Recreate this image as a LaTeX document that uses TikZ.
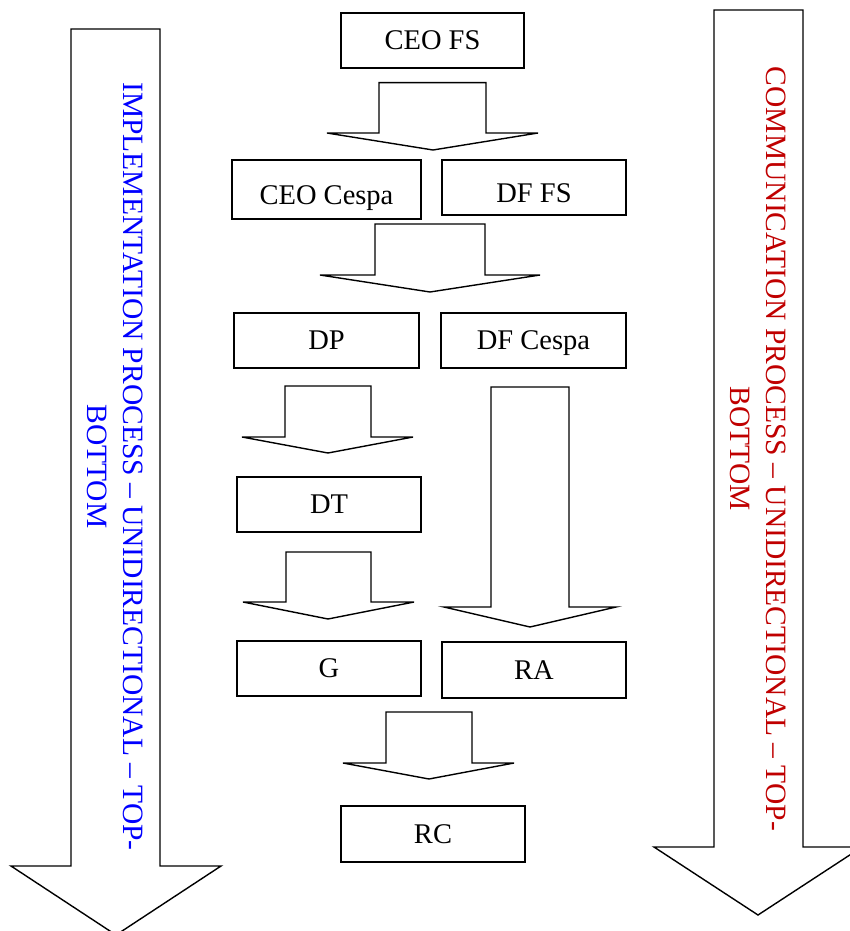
\documentclass[tikz,border=0pt]{standalone}
\usepackage{fontspec}
\setmainfont{Liberation Serif}
\definecolor{implblue}{RGB}{0,0,255}
\definecolor{commred}{RGB}{192,0,0}
\newcommand{\blkarrow}[8]{\draw[blk] (#1,#3) -- (#2,#3) -- (#2,#4) -- (#6,#4) -- (#7,#8) -- (#5,#4) -- (#1,#4) -- cycle;}
\tikzset{
  blk/.style={draw=black, fill=white, line width=1.4pt, line join=miter},
  orgbox/.style={draw=black, fill=white, line width=1.4pt, inner sep=0pt,
    text height=18.9pt, text depth=0pt,
    font=\fontsize{28.5}{34}\selectfont},
  lowtext/.style={text height=30.9pt},
  sidetext/.style={rotate=-90, align=center, inner sep=0pt,
    font=\fontsize{29.5}{35.5}\selectfont}
}
\begin{document}
\begin{tikzpicture}[x=1pt, y=-1pt]
\useasboundingbox (0,0) rectangle (850,931);
% big side arrows
\blkarrow{71}{160}{29}{866}{11}{221}{116}{935}
\blkarrow{714}{803}{10}{847}{654}{862}{758}{915}
\node[sidetext, text=implblue] (impl) at (115.3,466.5) {IMPLEMENTATION PROCESS – UNIDIRECTIONAL – TOP-\\BOTTOM};
\node[sidetext, text=commred] (comm) at (758,449) {COMMUNICATION PROCESS – UNIDIRECTIONAL – TOP-\\BOTTOM};
% boxes
\node[orgbox, minimum width=183pt, minimum height=55pt] (ceofs) at (432.5,40.5) {CEO FS};
\node[orgbox, lowtext, minimum width=189pt, minimum height=59pt] (ceocespa) at (326.5,189.5) {CEO Cespa};
\node[orgbox, lowtext, minimum width=184pt, minimum height=55pt] (dffs) at (534,187.5) {DF FS};
\node[orgbox, minimum width=185pt, minimum height=55pt] (dp) at (326.5,340.5) {DP};
\node[orgbox, minimum width=185pt, minimum height=55pt] (dfcespa) at (533.5,340.5) {DF Cespa};
\node[orgbox, minimum width=184pt, minimum height=55pt] (dt) at (329,504.5) {DT};
\node[orgbox, minimum width=184pt, minimum height=55pt] (g) at (329,668.5) {G};
\node[orgbox, minimum width=184pt, minimum height=56pt] (ra) at (534,670) {RA};
\node[orgbox, minimum width=184pt, minimum height=56pt] (rc) at (433,834) {RC};
% block arrows
\blkarrow{379}{486}{82.7}{133}{327}{538}{433}{150}
\blkarrow{375}{485}{224}{275}{320}{540}{430}{292}
\blkarrow{285}{371}{386}{437}{242}{413}{328}{453}
\blkarrow{286}{371}{552}{602}{243}{414}{328}{619}
\blkarrow{491}{569}{387}{607}{444}{616}{530}{627}
\blkarrow{386}{472}{712}{763}{343}{514}{429}{779}
\end{tikzpicture}
\end{document}
